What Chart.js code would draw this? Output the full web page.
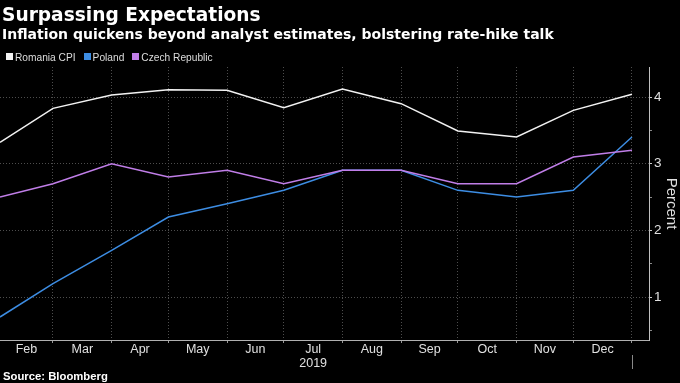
<!DOCTYPE html>
<html>
<head>
<meta charset="utf-8">
<script src="https://cdn.jsdelivr.net/npm/chart.js@4/dist/chart.umd.min.js"></script>
<style>
  html, body { margin: 0; padding: 0; background: #000; }
  #wrap { position: relative; width: 680px; height: 383px; overflow: hidden; background: #000; }
  canvas { position: absolute; left: 0; top: 0; }
  .t { position: absolute; left: 2px; color: #fff; white-space: nowrap; z-index: 2; }
  #title { top: 5.5px; font: bold 18.6px/18.6px "DejaVu Sans", sans-serif; }
  #sub { top: 26.7px; font: bold 14px/14px "DejaVu Sans", sans-serif; }
  #legend { top: 52.5px; left: 6px; font: 10.2px/10.2px "Liberation Sans", sans-serif; color: #ddd; }
  #legend span.item { margin-right: 8px; }
  #legend span.box { display: inline-block; width: 7px; height: 7px; margin-right: 2px; vertical-align: 1px; }
  #source { top: 370px; font: bold 11.3px "Liberation Sans", sans-serif; left: 3px; }
</style>
</head>
<body>
<div id="wrap">
  <canvas id="c" width="680" height="383"></canvas>
  <div class="t" id="title">Surpassing Expectations</div>
  <div class="t" id="sub">Inflation quickens beyond analyst estimates, bolstering rate-hike talk</div>
  <div class="t" id="legend"></div>
  <div class="t" id="source">Source: Bloomberg</div>
</div>
<script>
// ---- data ----
const dates = ['2019-01-31','2019-02-28','2019-03-31','2019-04-30','2019-05-31','2019-06-30',
               '2019-07-31','2019-08-31','2019-09-30','2019-10-31','2019-11-30','2019-12-31'];
const monthLabels = ['Jan','Feb','Mar','Apr','May','Jun','Jul','Aug','Sep','Oct','Nov','Dec'];
const yearLabel = '2019';
const seriesNames = ['Romania CPI', 'Poland', 'Czech Republic'];
const romania = [3.32, 3.83, 4.03, 4.11, 4.10, 3.84, 4.12, 3.90, 3.49, 3.40, 3.80, 4.04];
const poland  = [0.7, 1.2, 1.7, 2.2, 2.4, 2.6, 2.9, 2.9, 2.6, 2.5, 2.6, 3.4];
const czech   = [2.5, 2.7, 3.0, 2.8, 2.9, 2.7, 2.9, 2.9, 2.7, 2.7, 3.1, 3.2];
const yTicks  = [0.5, 1, 1.5, 2, 2.5, 3, 3.5, 4];
const colors  = ['#f2f2f2', '#3d8de3', '#c07ee8'];

// day offsets from the first observation
const t0 = Date.parse(dates[0]);
const day = d => (Date.parse(d) - t0) / 86400000;
const xDays = dates.map(day);
const lastDay = xDays[xDays.length - 1];

// tick list: month-end grid ticks + mid-month label ticks
const tickDefs = [];
for (let i = 1; i < xDays.length; i++) {
  tickDefs.push({ value: (xDays[i - 1] + xDays[i]) / 2, label: monthLabels[i], grid: false });
  tickDefs.push({ value: xDays[i], label: '', grid: true });
}
const tickByValue = new Map(tickDefs.map(t => [t.value, t]));

// legend (HTML)
const leg = document.getElementById('legend');
seriesNames.forEach((n, i) => {
  const s = document.createElement('span'); s.className = 'item';
  const b = document.createElement('span'); b.className = 'box'; b.style.background = colors[i];
  s.appendChild(b); s.appendChild(document.createTextNode(n));
  leg.appendChild(s);
});

const toPts = arr => arr.map((v, i) => ({ x: xDays[i], y: v }));
const allSeries = [romania, poland, czech];

const yearMark = {
  id: 'yearMark',
  afterDraw(chart) {
    const x = Math.round(chart.scales.x.getPixelForValue(lastDay)) + 0.5;
    const ctx = chart.ctx;
    ctx.save();
    ctx.strokeStyle = '#888';
    ctx.lineWidth = 1;
    ctx.beginPath(); ctx.moveTo(x, 355); ctx.lineTo(x, 369); ctx.stroke();
    ctx.restore();
  }
};

const isGrid = c => { const t = c.tick && tickByValue.get(c.tick.value); return !!(t && t.grid); };

new Chart(document.getElementById('c'), {
  type: 'line',
  data: {
    datasets: allSeries.map((arr, i) => ({
      label: seriesNames[i],
      data: toPts(arr),
      borderColor: colors[i],
      backgroundColor: colors[i],
      borderWidth: 1.5,
      pointRadius: 0,
      tension: 0,
      order: 3 - i
    }))
  },
  options: {
    responsive: false,
    animation: false,
    devicePixelRatio: 1,
    layout: { padding: { top: 67, bottom: 13, left: 0, right: 0 } },
    plugins: { legend: { display: false }, tooltip: { enabled: false } },
    scales: {
      x: {
        type: 'linear',
        min: 0,
        max: lastDay + 9,
        afterBuildTicks: s => { s.ticks = tickDefs.map(t => ({ value: t.value })); },
        afterFit: s => { s.height = 30; },
        ticks: {
          autoSkip: false,
          maxRotation: 0,
          padding: 0,
          color: '#e0e0e0',
          font: { family: 'Liberation Sans', size: 12.5, lineHeight: 1.1 },
          callback: v => {
            const t = tickByValue.get(v);
            if (!t) return '';
            return t.label === 'Jul' ? [t.label, yearLabel] : t.label;
          }
        },
        grid: {
          color: c => (isGrid(c) ? '#4d4d4d' : 'rgba(0,0,0,0)'),
          tickColor: c => (isGrid(c) ? '#999' : 'rgba(0,0,0,0)'),
          lineWidth: 1,
          tickLength: 3
        },
        border: { display: true, color: '#b0b0b0', width: 1, dash: [1, 2] }
      },
      y: {
        type: 'linear',
        position: 'right',
        min: 0.355,
        max: 4.45,
        afterBuildTicks: s => { s.ticks = yTicks.map(v => ({ value: v })); },
        afterFit: s => { s.width = 31; },
        ticks: {
          autoSkip: false,
          padding: 2,
          color: '#e0e0e0',
          font: { family: 'Liberation Sans', size: 13.5 },
          callback: v => (Number.isInteger(v) ? String(v) : '')
        },
        grid: {
          color: c => (c.tick && Number.isInteger(c.tick.value) ? '#4d4d4d' : 'rgba(0,0,0,0)'),
          tickColor: c => (c.tick && Number.isInteger(c.tick.value) ? '#ccc' : '#888'),
          tickLength: 3
        },
        border: { display: true, color: '#c0c0c0', width: 1, dash: [1, 2] },
        title: {
          display: true,
          text: 'Percent',
          color: '#e0e0e0',
          padding: 0,
          font: { family: 'Liberation Sans', size: 15 }
        }
      }
    }
  },
  plugins: [yearMark]
});
</script>
</body>
</html>
